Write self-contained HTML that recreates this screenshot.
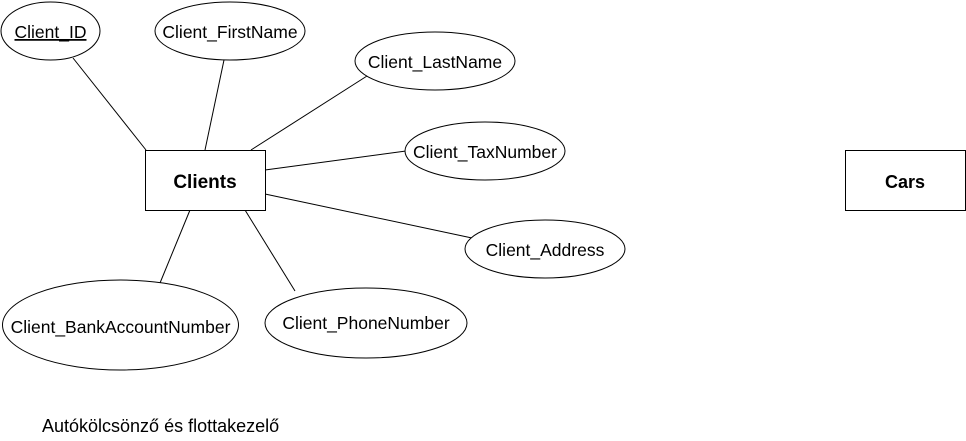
<!DOCTYPE html>
<html><head><meta charset="utf-8"><style>body{margin:0;background:#fff}svg{display:block}text{font-family:"Liberation Sans",Arial,sans-serif;font-size:17.5px}</style></head>
<body>
<svg width="966" height="441" viewBox="0 0 966 441" xmlns="http://www.w3.org/2000/svg">
<g stroke="#000" stroke-width="1" fill="none">
<line x1="73" y1="58" x2="146" y2="150"/>
<line x1="224" y1="60" x2="205" y2="150"/>
<line x1="367" y1="76" x2="251" y2="150"/>
<line x1="265" y1="170" x2="406" y2="151"/>
<line x1="265" y1="194" x2="472" y2="238"/>
<line x1="190" y1="210" x2="160" y2="283"/>
<line x1="245" y1="210" x2="295" y2="291"/>
</g>
<g stroke="#000" stroke-width="1" fill="#fff">
<ellipse cx="50.5" cy="31" rx="49.5" ry="29"/>
<ellipse cx="230" cy="31" rx="75" ry="29"/>
<ellipse cx="435" cy="61" rx="80" ry="29"/>
<ellipse cx="485" cy="151" rx="80" ry="29"/>
<ellipse cx="545" cy="249" rx="80" ry="29"/>
<ellipse cx="120.5" cy="325" rx="118" ry="45"/>
<ellipse cx="366" cy="323" rx="101" ry="35"/>
<rect x="145.5" y="150.5" width="120" height="60"/>
<rect x="845.5" y="150.5" width="120" height="60"/>
</g>
<g fill="#000" text-anchor="middle">
<text x="50.5" y="38" text-decoration="underline">Client_ID</text>
<text x="230" y="38">Client_FirstName</text>
<text x="435" y="68">Client_LastName</text>
<text x="485" y="158">Client_TaxNumber</text>
<text x="545" y="256">Client_Address</text>
<text x="120.5" y="333">Client_BankAccountNumber</text>
<text x="366" y="329">Client_PhoneNumber</text>
<text x="205" y="188" font-weight="bold" style="font-size:19px">Clients</text>
<text x="905" y="188" font-weight="bold" style="font-size:18px">Cars</text>
</g>
<text x="42" y="432" style="font-size:18px">Autókölcsönző és flottakezelő</text>
</svg>
</body></html>
